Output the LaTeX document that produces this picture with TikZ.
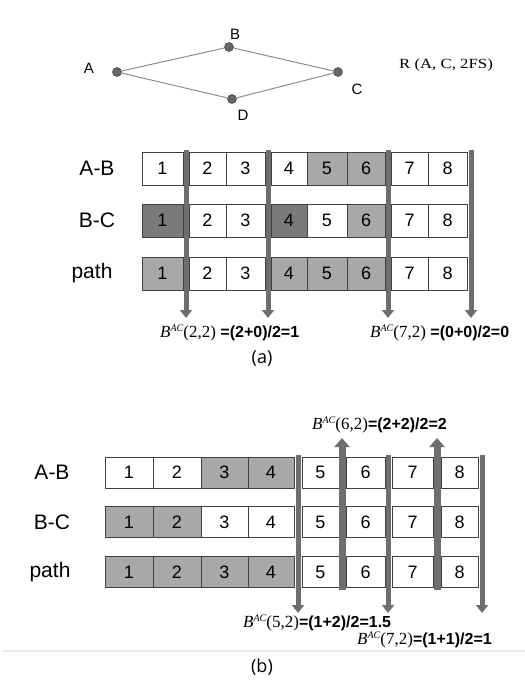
\documentclass[tikz,border=0pt]{standalone}
\usepackage{fontspec}
\setmainfont{Liberation Sans}
\newfontfamily\seriffont{Liberation Serif}
\newfontfamily\capfont{Open Sans}
\usetikzlibrary{arrows.meta}
\definecolor{cellgray}{HTML}{A8A8A8}
\definecolor{celldark}{HTML}{7A7A7A}
\definecolor{bargray}{HTML}{6E6E6E}
\definecolor{edgegray}{HTML}{8C8C8C}
\definecolor{dotgray}{HTML}{666666}
\definecolor{rulegray}{HTML}{EBEBEB}
\newcommand{\fs}[1]{\fontsize{#1bp}{#1bp}\selectfont}
\newcommand{\Bac}[1]{{\mdseries\seriffont\fs{17}\textit{B}\raisebox{6bp}{\fs{10}\textit{AC}}(#1)}}
\begin{document}
\begin{tikzpicture}[x=1bp,y=-1bp,
  cella/.style={draw=black!75, line width=0.8bp, inner sep=0pt, minimum height=33bp, font=\fs{18}},
  cellb/.style={draw=black!75, line width=0.8bp, inner sep=0pt, minimum height=31bp, font=\fs{18}},
  rowlab/.style={font=\fs{21}},
  vlab/.style={font=\fs{15}},
  dot/.style={circle, fill=dotgray, draw=black!70, line width=0.6bp, inner sep=0pt, minimum size=9bp},
  edge/.style={draw=edgegray, line width=1bp},
  bar/.style={draw=bargray, line width=5bp, -{Triangle[length=8bp,width=12bp]}},
  barup/.style={draw=bargray, line width=7bp, -{Triangle[length=9bp,width=15bp]}},
  formula/.style={anchor=west, inner sep=0pt, font=\bfseries\fs{16}},
  caption/.style={font=\capfont\fs{18}}]
\useasboundingbox (0,0) rectangle (525,682);

% ---------- graph ----------
\node[dot] (A) at (117,72) {};
\node[dot] (B) at (229,47) {};
\node[dot] (C) at (338,72) {};
\node[dot] (D) at (232,99) {};
\draw[edge] (A) -- (B) -- (C) -- (D) -- (A);
\node[vlab] (lA) at (89,68) {A};
\node[vlab] (lB) at (235,34) {B};
\node[vlab] (lC) at (357,89) {C};
\node[vlab] (lD) at (243,115) {D};
\node[font=\seriffont\fs{14}] (R) at (446,65) {\scalebox{1.2}[1]{R (A, C, 2FS)}};

% ---------- (a) ----------
\node[rowlab] (ra1) at (97,168.5) {A-B};
\node[rowlab] (ra2) at (97,220.5) {B-C};
\node[rowlab] (ra3) at (92,273.5) {path};
\foreach \n/\cx/\w/\ab/\bc/\pa in {1/162.5/41/white/celldark/cellgray,
  2/207.5/37/white/white/white, 3/245.5/39/white/white/white,
  4/289/36/white/celldark/cellgray, 5/327/40/cellgray/white/cellgray,
  6/366/38/cellgray/cellgray/cellgray, 7/409.5/37/white/white/white,
  8/447.5/39/white/white/white}{
  \node[cella, minimum width=\w bp, fill=\ab] (aab\n) at (\cx,168.5) {\n};
  \node[cella, minimum width=\w bp, fill=\bc] (abc\n) at (\cx,220.5) {\n};
  \node[cella, minimum width=\w bp, fill=\pa] (apa\n) at (\cx,273.5) {\n};
}
\foreach \i/\x in {1/186,2/268,3/388,4/471}{
  \coordinate (at\i) at (\x,150);
  \coordinate (ab\i) at (\x,318);
  \draw[bar] (at\i) -- (ab\i);
}
\node[formula] (fa1) at (160,333) {\Bac{2,2} =(2+0)/2=1};
\node[formula] (fa2) at (370,333) {\Bac{7,2} =(0+0)/2=0};
\node[caption] (capa) at (262,358) {(a)};

% ---------- (b) ----------
\node[rowlab] (rb1) at (52,472.5) {A-B};
\node[rowlab] (rb2) at (52,522) {B-C};
\node[rowlab] (rb3) at (50,572) {path};
\foreach \n/\cx/\w/\ab/\bc/\pa in {1/129/48/white/cellgray/cellgray,
  2/177/48/white/cellgray/cellgray, 3/224.5/47/cellgray/white/cellgray,
  4/271/46/cellgray/white/cellgray, 5/320.5/37/white/white/white,
  6/365.5/39/white/white/white, 7/412.5/41/white/white/white,
  8/459.5/37/white/white/white}{
  \node[cellb, minimum width=\w bp, fill=\ab] (bab\n) at (\cx,472.5) {\n};
  \node[cellb, minimum width=\w bp, fill=\bc] (bbc\n) at (\cx,522) {\n};
  \node[cellb, minimum width=\w bp, fill=\pa] (bpa\n) at (\cx,572) {\n};
}
\foreach \i/\x in {1/298,2/388,3/482}{
  \coordinate (bt\i) at (\x,455);
  \coordinate (bb\i) at (\x,613);
  \draw[bar] (bt\i) -- (bb\i);
}
\foreach \i/\x in {1/342,2/437}{
  \coordinate (ub\i) at (\x,590);
  \coordinate (ut\i) at (\x,438);
  \draw[barup] (ub\i) -- (ut\i);
}
\node[formula] (fb1) at (312,425) {\Bac{6,2}=(2+2)/2=2};
\node[formula] (fb2) at (243,623) {\Bac{5,2}=(1+2)/2=1.5};
\node[formula] (fb3) at (357,640) {\Bac{7,2}=(1+1)/2=1};
\coordinate (rl) at (3,651);
\coordinate (rr) at (525,651);
\draw[rulegray, line width=2bp] (rl) -- (rr);
\node[caption] (capb) at (262,667) {(b)};
\end{tikzpicture}
\end{document}
